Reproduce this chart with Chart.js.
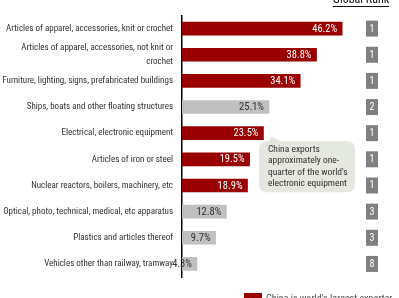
<!DOCTYPE html>
<html>
<head>
<meta charset="utf-8">
<script src="https://cdn.jsdelivr.net/npm/chart.js@4.4.0/dist/chart.umd.min.js"></script>
<style>
  html, body { margin: 0; padding: 0; background: #fff; overflow: hidden; }
  #wrap { width: 399px; height: 298px; }
</style>
</head>
<body>
<div id="wrap"><canvas id="chart" width="399" height="298"></canvas></div>
<script>
const categories = [
    "Articles of apparel, accessories, knit or crochet",
    ["Articles of apparel, accessories, not knit or", "crochet"],
    "Furniture, lighting, signs, prefabricated buildings",
    "Ships, boats and other floating structures",
    "Electrical, electronic equipment",
    "Articles of iron or steel",
    "Nuclear reactors, boilers, machinery, etc",
    "Optical, photo, technical, medical, etc apparatus",
    "Plastics and articles thereof",
    "Vehicles other than railway, tramway"
]
const shares = [46.2, 38.8, 34.1, 25.1, 23.5, 19.5, 18.9, 12.8, 9.7, 4.3]
const globalRank = [1, 1, 1, 2, 1, 1, 1, 3, 3, 8]
const calloutLines = ["China exports", "approximately one-", "quarter of the world's", "electronic equipment"]
const legendText = "China is world's largest exporter"

const RED = "#990000"
const GREY = "#c0c0c0"
const FONT = "'Roboto Condensed', 'Liberation Sans', sans-serif"

let barColors = globalRank.map(r => r == 1 ? RED : GREY)

const extras = {
    id: "extras",
    afterDatasetsDraw(chart) {
        let ctx = chart.ctx
        let meta = chart.getDatasetMeta(0)
        let y = chart.scales.y
        let x = chart.scales.x
        ctx.save()
        // value labels inside bars
        ctx.font = "10.5px " + FONT
        ctx.textAlign = "right"
        ctx.textBaseline = "middle"
        meta.data.forEach((bar, i) => {
            ctx.fillStyle = globalRank[i] == 1 ? "#ffffff" : "#333333"
            ctx.fillText(shares[i].toFixed(1) + "%", bar.x - 5, bar.y + 0.5)
        })
        // rank boxes
        ctx.textAlign = "center"
        ctx.font = "10px " + FONT
        globalRank.forEach((r, i) => {
            let cy = y.getPixelForValue(i)
            ctx.fillStyle = "#808080"
            ctx.fillRect(366, cy - 8, 12, 16)
            ctx.fillStyle = "#ffffff"
            ctx.fillText(String(r), 372, cy + 0.5)
        })
        // column title
        ctx.fillStyle = "#111111"
        ctx.font = "12px " + FONT
        ctx.textBaseline = "bottom"
        ctx.fillText("Global Rank", 361, 6)
        let tw = ctx.measureText("Global Rank").width
        ctx.fillRect(361 - tw / 2, 6, tw, 1)
        // callout
        let bx = x.getPixelForValue(22.2), by = y.getPixelForValue(4) + 8
        let bw = 96, bh = 51, rad = 8
        ctx.fillStyle = "#e4e8df"
        ctx.beginPath()
        ctx.moveTo(bx + rad, by)
        ctx.lineTo(bx + 10, by)
        ctx.lineTo(bx + 12, by - 5)
        ctx.lineTo(bx + 22, by)
        ctx.lineTo(bx + bw - rad, by)
        ctx.quadraticCurveTo(bx + bw, by, bx + bw, by + rad)
        ctx.lineTo(bx + bw, by + bh - rad)
        ctx.quadraticCurveTo(bx + bw, by + bh, bx + bw - rad, by + bh)
        ctx.lineTo(bx + rad, by + bh)
        ctx.quadraticCurveTo(bx, by + bh, bx, by + bh - rad)
        ctx.lineTo(bx, by + rad)
        ctx.quadraticCurveTo(bx, by, bx + rad, by)
        ctx.fill()
        ctx.fillStyle = "#333333"
        ctx.font = "9.5px " + FONT
        ctx.textAlign = "left"
        ctx.textBaseline = "middle"
        calloutLines.forEach((t, i) => ctx.fillText(t, bx + 9, by + 8 + i * 11.5))
        // legend (cut off at bottom)
        ctx.fillStyle = RED
        ctx.fillRect(244, 293, 18, 10)
        ctx.fillStyle = "#555555"
        ctx.font = "10px " + FONT
        ctx.textBaseline = "top"
        ctx.fillText(legendText, 266, 294)
        ctx.restore()
    }
}

new Chart(document.getElementById("chart"), {
    type: "bar",
    data: {
        labels: categories,
        datasets: [{
            label: legendText,
            data: shares,
            backgroundColor: barColors,
            borderWidth: 0,
            barThickness: 13
        }]
    },
    options: {
        indexAxis: "y",
        responsive: false,
        animation: false,
        layout: { padding: { top: 10, bottom: 21, right: 9, left: 0 } },
        plugins: {
            legend: { display: false },
            tooltip: { enabled: false }
        },
        scales: {
            x: {
                display: false,
                min: 0,
                max: 60
            },
            y: {
                grid: { display: false, drawTicks: false },
                border: { display: true, color: "#000000", width: 1.5 },
                ticks: {
                    color: "#333333",
                    padding: 9,
                    autoSkip: false,
                    font: { family: FONT, size: 9, lineHeight: 1.45 }
                },
                afterFit(scale) { scale.width = 182 }
            }
        }
    },
    plugins: [extras]
})
</script>
</body>
</html>
